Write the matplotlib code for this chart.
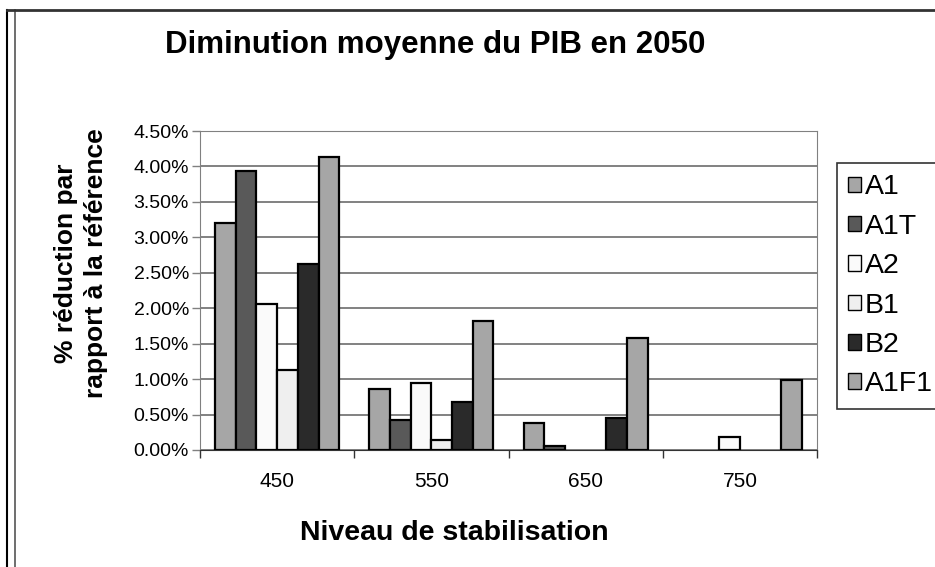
import numpy as np
import matplotlib.pyplot as plt
from matplotlib.lines import Line2D
from matplotlib.ticker import PercentFormatter

plt.rcParams['font.family'] = ['Liberation Sans', 'DejaVu Sans']

levels = ['450', '550', '650', '750']
series = ['A1', 'A1T', 'A2', 'B1', 'B2', 'A1F1']
values = {
    'A1':   [3.20, 0.86, 0.38, 0.00],
    'A1T':  [3.93, 0.42, 0.05, 0.00],
    'A2':   [2.06, 0.95, 0.00, 0.18],
    'B1':   [1.13, 0.14, 0.00, 0.00],
    'B2':   [2.63, 0.68, 0.45, 0.00],
    'A1F1': [4.14, 1.82, 1.58, 0.99],
}
colors = ['#a6a6a6', '#595959', '#fafafa', '#efefef', '#2a2a2a', '#a6a6a6']

W, H = 935, 567
fig = plt.figure(figsize=(W / 100, H / 100), dpi=100)
ax = fig.add_axes([200 / W, 1 - 450 / H, 617 / W, 319 / H])

x = np.arange(len(levels))
w = 0.805 / len(series)
for i, (s, c) in enumerate(zip(series, colors)):
    bars = ax.bar(x - 0.4025 + w * (i + 0.5), values[s], w, color=c,
                  edgecolor='black', linewidth=1.6, label=s, zorder=3)
    for b, v in zip(bars, values[s]):
        if v == 0:
            b.set_visible(False)

ax.set_xlim(-0.5, len(levels) - 0.5)
ax.set_ylim(0, 4.5)
ax.set_yticks(np.arange(0, 4.51, 0.5))
ax.yaxis.set_major_formatter(PercentFormatter(decimals=2))
ax.set_xticks(x)
ax.set_xticklabels(levels)
ax.set_xticks(np.arange(-0.5, len(levels)), minor=True)
ax.tick_params(axis='x', which='major', length=0, pad=16, labelsize=15)
ax.tick_params(axis='x', which='minor', length=6, width=1, color='#333333')
ax.tick_params(axis='y', length=6, width=1, color='#808080', labelsize=14, pad=2)
ax.grid(axis='y', color='#777777', linewidth=1.3, zorder=0)
for side in ['left', 'right', 'top']:
    ax.spines[side].set_color('#808080')
ax.spines['bottom'].set_color('#333333')

fig.text(454 / W, 1 - 533 / H, 'Niveau de stabilisation', ha='center', va='center',
         fontsize=20.5, fontweight='bold')
fig.text(81 / W, 1 - 263 / H, '% réduction par\nrapport à la référence', rotation=90,
         ha='center', va='center', multialignment='center', fontsize=19,
         fontweight='bold', linespacing=1.3)
fig.text(435 / W, 1 - 45 / H, 'Diminution moyenne du PIB en 2050', ha='center',
         va='center', fontsize=22.5, fontweight='bold')

# legend box runs off the right edge of the picture, as in the original
leg = fig.legend(loc='upper left', bbox_to_anchor=(837 / W, 1 - 416 / H, 200 / W, 253 / H),
                 mode='expand', frameon=True, fancybox=False, edgecolor='black',
                 fontsize=20.5, handlelength=0.46, handleheight=0.46, handletextpad=0.12,
                 labelspacing=0.47, borderpad=0.4, borderaxespad=0)
leg.get_frame().set_linewidth(1.2)
for h in leg.legend_handles:
    h.set_linewidth(1.0)

# outer frame (only top and left are visible in the original)
fig.add_artist(Line2D([7 / W, 7 / W], [0, 1 - 10 / H], transform=fig.transFigure,
                      color='black', linewidth=1.5))
fig.add_artist(Line2D([15 / W, 15 / W], [0, 1 - 10 / H], transform=fig.transFigure,
                      color='#555555', linewidth=1.2))
fig.add_artist(Line2D([7 / W, 1], [1 - 10 / H, 1 - 10 / H], transform=fig.transFigure,
                      color='#333333', linewidth=2))

fig.savefig('out.png', dpi=100)
